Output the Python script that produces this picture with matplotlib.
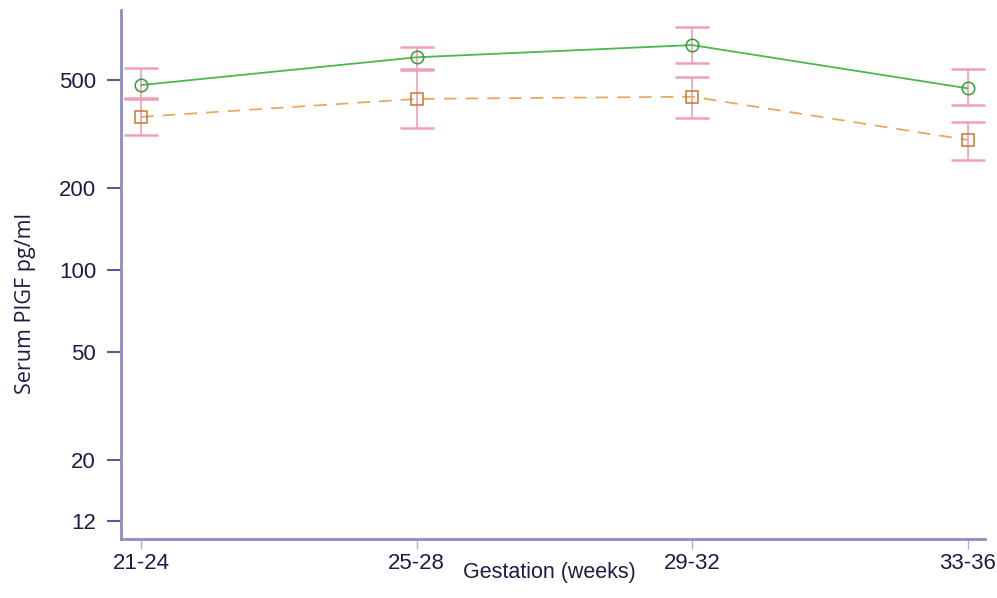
import numpy as np
import matplotlib
matplotlib.use('Agg')
import matplotlib.pyplot as plt

# data
groups = ['21-24', '25-28', '29-32', '33-36']
green_mean = [479, 606, 672, 466]
green_hi = [553, 663, 781, 549]
green_lo = [428, 549, 579, 405]
orange_mean = [366, 426, 434, 301]
orange_hi = [425, 544, 512, 351]
orange_lo = [314, 334, 361, 254]
yticks = [12, 20, 50, 100, 200, 500]

navy = '#1c1c44'
axcol = '#8e8ec4'
errcol = '#e0506e'

fig = plt.figure(figsize=(9.97, 5.98), dpi=100)
ax = fig.add_axes([0.1214, 0.0982, 0.867, 0.885])

x = np.arange(len(groups))

# error bars (light stems, red caps)
for mean, lo, hi in [(green_mean, green_lo, green_hi), (orange_mean, orange_lo, orange_hi)]:
    yerr = [np.array(mean) - np.array(lo), np.array(hi) - np.array(mean)]
    eb = ax.errorbar(x, mean, yerr=yerr, fmt='none', ecolor='#f0a0b4',
                     elinewidth=1.2, capsize=12, capthick=1.8, zorder=2)
    for cap in eb[1]:
        cap.set_color(errcol)

ax.plot(x, green_mean, '-', color='#4cb84c', lw=1.3, marker='o', ms=9,
        mfc='none', mec='#3a9a3a', mew=1.1, zorder=3)
ax.plot(x, orange_mean, '--', color='#e8a860', lw=1.3, dashes=(7, 5), marker='s',
        ms=9, mfc='none', mec='#c87830', mew=1.1, zorder=3)

ax.set_yscale('log')
ax.set_ylim(10.24, 904)
ax.set_xlim(-0.073, 3.065)
ax.set_yticks(yticks)
ax.set_yticklabels([str(t) for t in yticks])
ax.minorticks_off()
ax.set_xticks(x)
ax.set_xticklabels(groups)

for s in ['top', 'right']:
    ax.spines[s].set_visible(False)
for s in ['left', 'bottom']:
    ax.spines[s].set_color(axcol)
    ax.spines[s].set_linewidth(2)

ax.tick_params(axis='y', length=10, width=1.5, color='#5a5a9a', pad=8,
               labelsize=16, labelcolor=navy)
ax.tick_params(axis='x', length=7, width=1, color='#b0b0c8', pad=3,
               labelsize=16, labelcolor=navy)
for lab in ax.get_xticklabels() + ax.get_yticklabels():
    lab.set_fontfamily('Liberation Sans')

ax.set_ylabel('Serum PIGF pg/ml', fontsize=15.5, color=navy, family='Open Sans')
ax.yaxis.set_label_coords(-0.111, 0.446)
ax.yaxis.label.set_va('center')
ax.set_xlabel('Gestation (weeks)', fontsize=15.5, color=navy, family='Liberation Sans')
ax.xaxis.set_label_coords(0.495, -0.062)
ax.xaxis.label.set_va('center')

fig.savefig('out.png', dpi=100)
